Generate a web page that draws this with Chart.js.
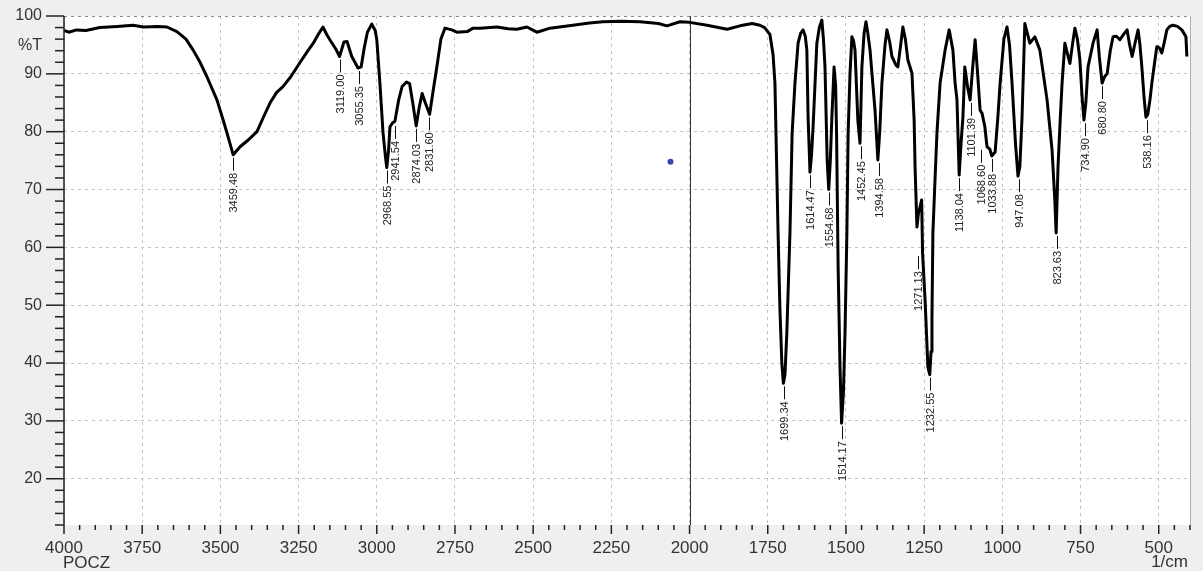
<!DOCTYPE html>
<html>
<head>
<meta charset="utf-8">
<script src="https://cdn.jsdelivr.net/npm/chart.js@4.4.1/dist/chart.umd.min.js"></script>
<style>
  html, body { margin: 0; padding: 0; background: #efefef; }
  canvas { display: block; }
</style>
</head>
<body>
<canvas id="irChart" width="1203" height="571"></canvas>
<script>
// spectrum trace (1/cm, %T)
const wavenumbers = [
  4000, 3985, 3960, 3930, 3885, 3830, 3779, 3747, 3700, 3671, 3639, 3610, 3587, 3565, 3543, 3511,
  3490, 3479, 3459, 3437, 3410, 3383, 3360, 3341, 3320, 3300, 3275, 3245, 3220, 3203, 3185, 3172,
  3160, 3149, 3130, 3119, 3105, 3095, 3080, 3060, 3050, 3040, 3030, 3016, 3005, 3000, 2990, 2980,
  2972, 2968, 2962, 2958, 2950, 2942, 2930, 2919, 2905, 2895, 2885, 2874, 2865, 2855, 2845, 2831,
  2820, 2808, 2795, 2782, 2760, 2744, 2711, 2692, 2670, 2616, 2580, 2552, 2520, 2488, 2446, 2373,
  2320, 2277, 2220, 2158, 2100, 2072, 2031, 2000, 1944, 1880, 1839, 1800, 1775, 1760, 1743, 1733,
  1727, 1717, 1711, 1705, 1700, 1695, 1689, 1679, 1672, 1663, 1653, 1645, 1637, 1630, 1625, 1621,
  1615, 1610, 1605, 1593, 1585, 1577, 1572, 1567, 1560, 1555, 1550, 1545, 1538, 1533, 1530, 1525,
  1519, 1514, 1508, 1503, 1497, 1493, 1487, 1481, 1476, 1471, 1462, 1455, 1449, 1442, 1436, 1430,
  1423, 1407, 1398, 1392, 1385, 1375, 1369, 1360, 1353, 1340, 1334, 1325, 1318, 1310, 1302, 1289,
  1282, 1279, 1273, 1268, 1263, 1258, 1255, 1247, 1238, 1232, 1228, 1225, 1222, 1215, 1209, 1199,
  1183, 1170, 1158, 1151, 1145, 1138, 1132, 1126, 1120, 1111, 1103, 1095, 1087, 1079, 1071, 1065,
  1056, 1049, 1040, 1034, 1023, 1015, 1007, 995, 985, 977, 969, 958, 950, 944, 937, 928,
  920, 912, 896, 880, 857, 841, 832, 828, 822, 815, 809, 800, 792, 784, 776, 768,
  760, 752, 745, 739, 733, 726, 710, 697, 690, 681, 673, 665, 655, 646, 635, 624,
  610, 601, 593, 585, 575, 566, 560, 554, 547, 541, 535, 528, 522, 513, 506, 498,
  490, 482, 474, 465, 455, 440, 426, 413, 410
];
const transmittance = [
  97.5, 97.2, 97.6, 97.5, 98.0, 98.2, 98.4, 98.1, 98.2, 98.1, 97.3, 96.0, 94.1, 92.0, 89.5, 85.5,
  81.8, 79.8, 76.0, 77.4, 78.6, 80.0, 82.8, 85.0, 86.8, 87.8, 89.5, 92.0, 94.0, 95.3, 97.0, 98.1,
  96.8, 95.8, 94.2, 93.0, 95.5, 95.6, 93.0, 91.0, 91.2, 94.5, 97.2, 98.6, 97.5, 95.9, 88.4, 79.8,
  75.5, 73.8, 77.0, 80.8, 81.5, 81.8, 85.5, 87.8, 88.6, 88.3, 85.0, 81.0, 84.0, 86.6, 85.0, 83.0,
  87.0, 91.2, 96.0, 97.9, 97.6, 97.2, 97.3, 97.9, 97.9, 98.1, 97.8, 97.7, 98.1, 97.2, 97.9, 98.4,
  98.8, 99.0, 99.1, 99.0, 98.7, 98.3, 99.0, 98.9, 98.4, 97.7, 98.3, 98.7, 98.4, 98.0, 96.8, 93.3,
  88.4, 62.5, 49.2, 40.0, 36.5, 38.0, 45.2, 62.5, 79.8, 88.4, 95.3, 97.0, 97.6, 96.5, 94.1, 82.5,
  73.0, 76.0, 80.9, 95.3, 98.0, 99.3, 96.0, 91.2, 75.0, 70.0, 75.0, 82.5, 91.2, 88.0, 79.8, 56.6,
  39.3, 29.6, 35.0, 45.2, 62.5, 79.8, 90.0, 96.4, 95.8, 94.1, 82.0, 78.0, 91.2, 97.0, 99.0, 97.0,
  94.1, 83.7, 75.1, 80.0, 88.4, 95.0, 97.6, 95.5, 93.0, 91.5, 91.2, 95.0, 98.1, 96.0, 92.4, 90.1,
  82.0, 73.9, 63.5, 66.0, 67.0, 68.2, 59.0, 50.9, 39.3, 38.0, 42.0, 48.0, 62.5, 72.0, 79.8, 88.4,
  94.1, 97.6, 94.1, 88.4, 85.5, 72.5, 78.0, 82.5, 91.2, 87.7, 85.5, 91.0, 95.9, 90.0, 83.7, 83.2,
  80.9, 77.4, 77.0, 75.8, 76.5, 82.0, 88.4, 96.0, 98.1, 95.0, 88.4, 78.0, 72.3, 74.0, 82.5, 98.7,
  97.0, 95.3, 96.4, 94.1, 85.5, 76.8, 68.0, 62.5, 73.9, 82.0, 88.4, 95.3, 93.5, 91.8, 95.0, 97.9,
  96.0, 92.4, 86.0, 82.0, 85.0, 91.2, 95.3, 97.6, 93.0, 88.4, 89.5, 90.0, 94.0, 96.4, 96.5, 95.9,
  97.0, 97.6, 95.0, 93.0, 95.5, 97.6, 95.0, 91.2, 86.0, 82.5, 83.0, 85.5, 88.4, 92.0, 94.7, 94.5,
  93.6, 95.5, 97.6, 98.2, 98.4, 98.2, 97.6, 96.4, 93.0
];

// labelled peaks
const peakWavenumbers = [
  3459.48, 3119.00, 3055.35, 2968.55, 2941.54, 2874.03, 2831.60, 1699.34, 1614.47, 1554.68, 1514.17,
  1452.45, 1394.58, 1271.13, 1232.55, 1138.04, 1101.39, 1068.60, 1033.88, 947.08, 823.63, 734.90,
  680.80, 538.16
];
const peakTransmittance = [
  76.0, 93.0, 91.0, 73.8, 81.5, 81.0, 83.0, 36.5, 73.0, 70.0, 29.6,
  78.0, 75.1, 59.0, 38.0, 72.5, 85.5, 77.4, 75.8, 72.3, 62.5, 82.0,
  88.4, 82.5
];

const xTicks = [4000, 3750, 3500, 3250, 3000, 2750, 2500, 2250, 2000, 1750, 1500, 1250, 1000, 750, 500];
const yTicks = [100, 90, 80, 70, 60, 50, 40, 30, 20];

// marker line and cursor dot
const markerWavenumber = 2000;
const cursorPoint = { x: 2061, y: 74.8 };

const FONT = "'Liberation Sans', Arial, sans-serif";

const irDecor = {
  id: 'irDecor',
  beforeDraw(chart) {
    const { ctx, chartArea: a } = chart;
    ctx.save();
    ctx.fillStyle = '#efefef';
    ctx.fillRect(0, 0, chart.width, chart.height);
    ctx.fillStyle = '#ffffff';
    ctx.fillRect(a.left, a.top, a.right - a.left, a.bottom - a.top);
    ctx.restore();
  },
  beforeDatasetsDraw(chart) {
    const { ctx, chartArea: a, scales: { x } } = chart;
    const mx = Math.round(x.getPixelForValue(markerWavenumber)) + 0.5;
    ctx.save();
    ctx.strokeStyle = '#333';
    ctx.lineWidth = 1;
    ctx.beginPath();
    ctx.moveTo(mx, a.top);
    ctx.lineTo(mx, a.bottom);
    ctx.stroke();
    // right frame
    ctx.strokeStyle = '#b0b0b0';
    ctx.beginPath();
    ctx.moveTo(a.right + 0.5, a.top);
    ctx.lineTo(a.right + 0.5, a.bottom);
    ctx.stroke();
    ctx.restore();
  },
  afterDatasetsDraw(chart) {
    const { ctx, chartArea: a, scales: { x, y } } = chart;
    ctx.save();

    // left axis and tick marks
    ctx.strokeStyle = '#222';
    ctx.lineWidth = 1.5;
    ctx.beginPath();
    ctx.moveTo(a.left, a.top);
    ctx.lineTo(a.left, a.bottom);
    ctx.stroke();
    for (let v = 12; v <= 100; v += 2) {
      const py = y.getPixelForValue(v);
      const len = v % 10 === 0 ? 18 : 9;
      ctx.beginPath();
      ctx.moveTo(a.left - len, py);
      ctx.lineTo(a.left, py);
      ctx.stroke();
    }
    for (let v = 4000; v >= 400; v -= 50) {
      const px = x.getPixelForValue(v);
      const len = v % 250 === 0 ? 9 : 5;
      ctx.beginPath();
      ctx.moveTo(px, a.bottom);
      ctx.lineTo(px, a.bottom + len);
      ctx.stroke();
    }

    // cursor dot
    ctx.fillStyle = '#3a46b0';
    ctx.beginPath();
    ctx.arc(x.getPixelForValue(cursorPoint.x), y.getPixelForValue(cursorPoint.y), 3, 0, Math.PI * 2);
    ctx.fill();

    // peak labels
    ctx.strokeStyle = '#111';
    ctx.lineWidth = 1;
    ctx.fillStyle = '#222';
    ctx.font = '11px ' + FONT;
    peakWavenumbers.forEach((wn, i) => {
      const px = Math.round(x.getPixelForValue(wn)) + 0.5;
      const py = y.getPixelForValue(peakTransmittance[i]) + 3;
      ctx.beginPath();
      ctx.moveTo(px, py);
      ctx.lineTo(px, py + 13);
      ctx.stroke();
      ctx.save();
      ctx.translate(px, py + 15);
      ctx.rotate(-Math.PI / 2);
      ctx.textAlign = 'right';
      ctx.textBaseline = 'middle';
      ctx.fillText(wn.toFixed(2), 0, 0);
      ctx.restore();
    });

    // axis captions
    ctx.fillStyle = '#333';
    ctx.font = '16px ' + FONT;
    ctx.textAlign = 'right';
    ctx.textBaseline = 'middle';
    ctx.fillText('%T', 42, 46);
    ctx.font = '17px ' + FONT;
    ctx.textAlign = 'left';
    ctx.fillText('POCZ', 63, 563);
    ctx.textAlign = 'right';
    ctx.fillText('1/cm', 1188, 562);
    ctx.restore();
  }
};

const noPad = s => { s.paddingTop = 0; s.paddingBottom = 0; s.paddingLeft = 0; s.paddingRight = 0; };

new Chart(document.getElementById('irChart'), {
  type: 'line',
  data: {
    datasets: [{
      data: wavenumbers.map((wn, i) => ({ x: wn, y: transmittance[i] })),
      borderColor: '#000',
      borderWidth: 3,
      pointRadius: 0,
      tension: 0,
      borderJoinStyle: 'round',
      fill: false
    }]
  },
  options: {
    responsive: false,
    animation: false,
    devicePixelRatio: 1,
    layout: { padding: { left: 0, top: 16, right: 13, bottom: 0 } },
    plugins: { legend: { display: false }, tooltip: { enabled: false } },
    scales: {
      x: {
        type: 'linear',
        reverse: true,
        min: 400,
        max: 4000,
        afterBuildTicks: s => { s.ticks = [...xTicks].sort((a, b) => a - b).map(v => ({ value: v })); },
        afterFit: s => { s.height = 46; noPad(s); },
        ticks: {
          autoSkip: false, maxRotation: 0, padding: 13, color: '#333',
          font: { family: FONT, size: 17 },
          callback: v => String(v)
        },
        grid: { color: '#c4c4c4', drawTicks: false, lineWidth: 1 },
        border: { display: false, dash: [3, 4] }
      },
      y: {
        min: 12,
        max: 100,
        afterBuildTicks: s => { s.ticks = [...yTicks].sort((a, b) => a - b).map(v => ({ value: v })); },
        afterFit: s => { s.width = 64; noPad(s); },
        ticks: { padding: 22, color: '#333', font: { family: FONT, size: 16 }, callback: v => String(v) },
        grid: {
          color: c => (c.tick && c.tick.value === 100 ? '#8a8a8a' : '#c4c4c4'),
          drawTicks: false,
          lineWidth: 1
        },
        border: { display: false, dash: [3, 4] }
      }
    }
  },
  plugins: [irDecor]
});
</script>
</body>
</html>
